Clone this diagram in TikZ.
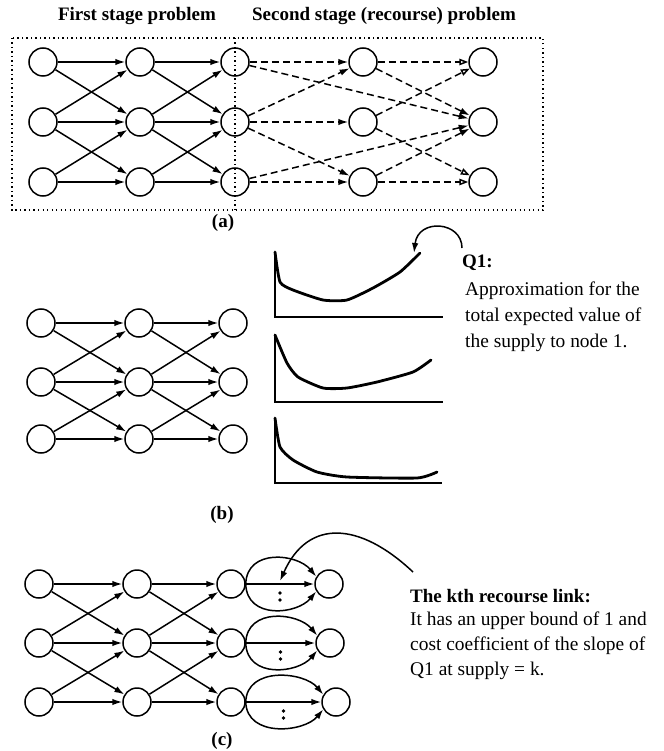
\documentclass[tikz,border=0pt]{standalone}
\usepackage{fontspec}
\setmainfont{Liberation Serif}
\usetikzlibrary{arrows.meta,calc}

\begin{document}
\begin{tikzpicture}[x=1pt,y=-1pt,
  nd/.style={circle,draw,line width=1.5pt,minimum size=28pt,inner sep=0pt},
  edge/.style={line width=1.5pt,-{Latex[length=10pt,width=6.5pt]}},
  dedge/.style={edge,dash pattern=on 7pt off 4pt},
  oedge/.style={line width=1.5pt,dash pattern=on 7pt off 4pt,-{Triangle[open,length=9pt,width=6.5pt]}},
  dotline/.style={line width=1.4pt,dash pattern=on 1.3pt off 3.2pt},
  axisline/.style={line width=1.7pt},
  curveline/.style={line width=2.8pt,line join=round,line cap=round},
  txt/.style={font=\fontsize{19.4}{25}\selectfont,inner sep=0pt},
  btxt/.style={font=\fontsize{19}{25}\selectfont\bfseries,inner sep=0pt},
  pointer/.style={line width=1.5pt,-{Latex[length=10pt,width=6.5pt]}},
  ]
\useasboundingbox (0,0) rectangle (663,751);

% ---------- (a) two-stage network ----------
\node[btxt,anchor=base] (t1) at (137,21) {First stage problem};
\node[btxt,anchor=base] (t2) at (384,21) {Second stage (recourse) problem};

\foreach \c/\x in {1/43,2/140,3/235,4/363,5/483}
  \foreach \r/\y in {1/62,2/122,3/182}
    \node[nd] (a\c\r) at (\x,\y) {};

\draw[dotline] (12,38) rectangle (543,210);
\draw[dotline] (235,38) -- (235,210);

\foreach \p/\q in {1/2,2/3}
  \foreach \r/\s in {1/1,1/2,2/1,2/2,2/3,3/2,3/3}
    \draw[edge] (a\p\r) -- (a\q\s);

\foreach \u/\v in {31/41,31/52,32/41,32/42,32/43,33/43,33/52,41/52,43/52}
  \draw[dedge] (a\u) -- (a\v);
\foreach \u/\v in {41/51,42/51,42/53,43/53}
  \draw[oedge] (a\u) -- (a\v);

\node[btxt] (la) at (223,223) {(a)};

% ---------- (b) network with value functions ----------
\foreach \c/\x in {1/41,2/139,3/233}
  \foreach \r/\y in {1/323,2/382,3/439}
    \node[nd] (b\c\r) at (\x,\y) {};
\foreach \p/\q in {1/2,2/3}
  \foreach \r/\s in {1/1,1/2,2/1,2/2,2/3,3/2,3/3}
    \draw[edge] (b\p\r) -- (b\q\s);

\draw[axisline] (275,252) -- (275,317) -- (443,317);
\draw[curveline] plot[smooth,tension=0.35] coordinates
  {(275,252) (280,282) (293,290) (323,300) (347,300) (373,288) (400,272) (420,253)};
\draw[axisline] (275,335) -- (275,402) -- (443,402);
\draw[curveline] plot[smooth,tension=0.35] coordinates
  {(275,335) (287,363) (298,377) (323,388) (347,388) (377,382) (413,372) (431,360)};
\draw[axisline] (275,418) -- (275,483) -- (442,483);
\draw[curveline] plot[smooth,tension=0.35] coordinates
  {(275,418) (280,447) (293,460) (317,472) (347,477) (417,478) (437,472)};

\coordinate (qstart) at (462,248);
\coordinate (qtip) at (414,253);
\draw[pointer] (qstart) .. controls (462,221) and (418,218) .. (qtip);

\node[btxt,anchor=base west] (q1) at (462,267) {Q1:};
\node[txt,anchor=base west] (q1a) at (465,295) {Approximation for the};
\node[txt,anchor=base west] (q1b) at (465,321) {total expected value of};
\node[txt,anchor=base west] (q1c) at (465,347) {the supply to node 1.};

\node[btxt] (lb) at (222,515) {(b)};

% ---------- (c) network with recourse links ----------
\foreach \c/\x in {1/39,2/137,3/231}
  \foreach \r/\y in {1/584,2/643,3/702}
    \node[nd] (c\c\r) at (\x,\y) {};
\node[nd] (c51) at (329,584) {};
\node[nd] (c52) at (330,643) {};
\node[nd] (c53) at (336,702) {};

\foreach \p/\q in {1/2,2/3}
  \foreach \r/\s in {1/1,1/2,2/1,2/2,2/3,3/2,3/3}
    \draw[edge] (c\p\r) -- (c\q\s);

\foreach \r in {1,2,3} {
  \draw[edge] (c3\r) -- (c5\r);
  \draw[edge] (c3\r.east) .. controls +(1,-36) and +(-19,-23) .. (c5\r.150);
  \draw[edge] (c3\r.east) .. controls +(1,36) and +(-19,23) .. (c5\r.210);
  \coordinate (m\r) at ($(c3\r.east)!0.5!(c5\r.west)$);
  \fill ($(m\r)+(0,9)$) circle (1.8pt);
  \fill ($(m\r)+(0,16)$) circle (1.8pt);
}

\coordinate (kstart) at (413,572);
\coordinate (ktip) at (280,581);
\draw[pointer] (kstart) .. controls (360,522) and (308,518) .. (ktip);

\node[btxt,anchor=base west] (k0) at (410,602) {The kth recourse link:};
\node[txt,anchor=base west] (k1) at (410,625) {It has an upper bound of 1 and};
\node[txt,anchor=base west] (k2) at (410,650) {cost coefficient of the slope of};
\node[txt,anchor=base west] (k3) at (410,675) {Q1 at supply = k.};

\node[btxt] (lc) at (222,741) {(c)};
\end{tikzpicture}
\end{document}
